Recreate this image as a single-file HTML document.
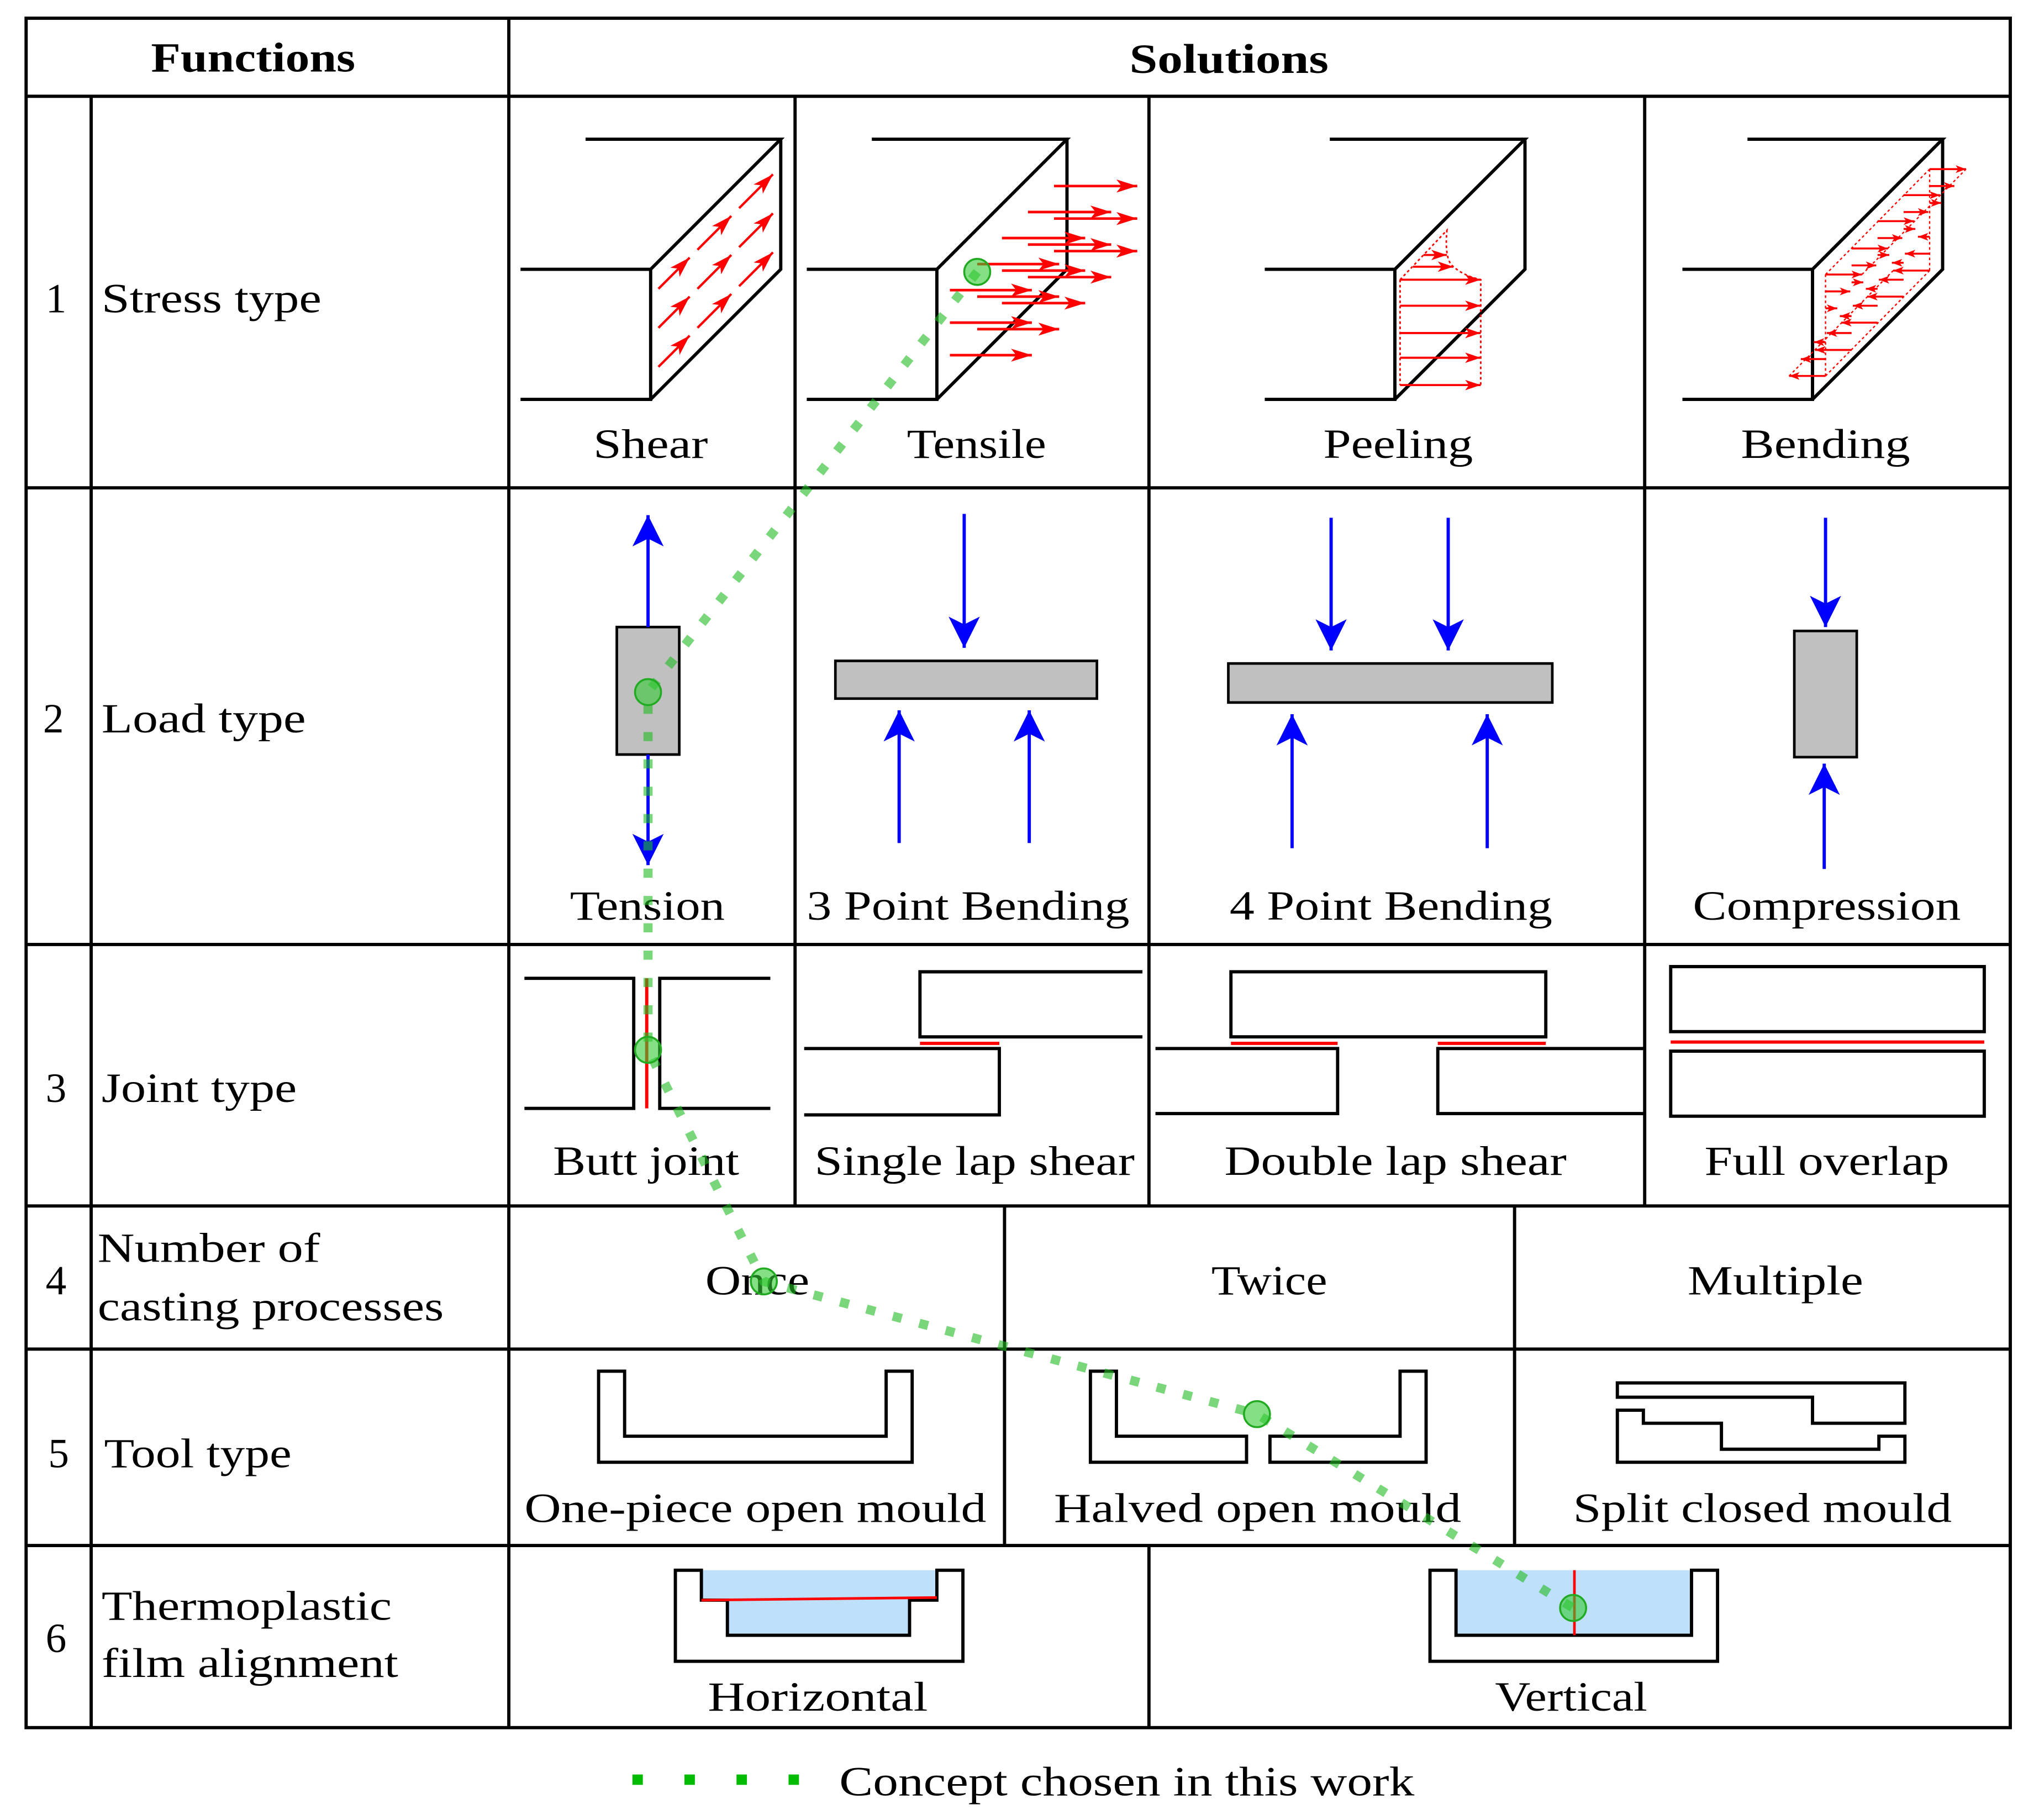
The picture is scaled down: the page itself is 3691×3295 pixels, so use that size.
<!DOCTYPE html>
<html><head><meta charset="utf-8"><style>html,body{margin:0;padding:0;background:#fff}svg{display:block}</style></head><body>
<svg width="3691" height="3295" viewBox="0 0 1567 1399" xmlns="http://www.w3.org/2000/svg" font-family="'Liberation Serif', serif" font-size="32">
<defs>
<marker id="ra" markerWidth="17" markerHeight="10" refX="16" refY="5" orient="auto" markerUnits="userSpaceOnUse"><path d="M0,0 L16,5 L0,10 L4,5 Z" fill="red"/></marker>
<marker id="rp" markerWidth="13" markerHeight="8" refX="12" refY="4" orient="auto" markerUnits="userSpaceOnUse"><path d="M0,0 L12,4 L0,8 L3,4 Z" fill="red"/></marker>
<marker id="rs" markerWidth="9" markerHeight="6" refX="8" refY="3" orient="auto" markerUnits="userSpaceOnUse"><path d="M0,0 L8,3 L0,6 L2,3 Z" fill="red"/></marker>
<marker id="ba" markerWidth="26" markerHeight="24" refX="24" refY="12" orient="auto" markerUnits="userSpaceOnUse"><path d="M0,0 L24,12 L0,24 L6,12 Z" fill="blue"/></marker>
</defs>
<g stroke="#000" stroke-width="2.5" fill="none">
<rect x="20" y="14" width="1525" height="1314"/>
<line x1="20" y1="74" x2="1545" y2="74"/>
<line x1="391" y1="14" x2="391" y2="1328"/>
<line x1="70" y1="74" x2="70" y2="1328"/>
<line x1="20" y1="375" x2="1545" y2="375"/>
<line x1="20" y1="726" x2="1545" y2="726"/>
<line x1="20" y1="927" x2="1545" y2="927"/>
<line x1="20" y1="1037" x2="1545" y2="1037"/>
<line x1="20" y1="1188" x2="1545" y2="1188"/>
<line x1="611" y1="74" x2="611" y2="927"/>
<line x1="883" y1="74" x2="883" y2="927"/>
<line x1="1264" y1="74" x2="1264" y2="927"/>
<line x1="772" y1="927" x2="772" y2="1188"/>
<line x1="1164" y1="927" x2="1164" y2="1188"/>
<line x1="883" y1="1188" x2="883" y2="1328"/>
</g>
<g font-weight="bold" lengthAdjust="spacingAndGlyphs"><text x="116" y="55" textLength="157" lengthAdjust="spacingAndGlyphs">Functions</text><text x="868" y="56" textLength="153" lengthAdjust="spacingAndGlyphs">Solutions</text></g>
<g>
<text x="35" y="240">1</text><text x="78" y="240" textLength="169" lengthAdjust="spacingAndGlyphs">Stress type</text>
<text x="33" y="563">2</text><text x="78" y="563" textLength="157" lengthAdjust="spacingAndGlyphs">Load type</text>
<text x="35" y="847">3</text><text x="78" y="847" textLength="150" lengthAdjust="spacingAndGlyphs">Joint type</text>
<text x="35" y="995">4</text><text x="75" y="970" textLength="171" lengthAdjust="spacingAndGlyphs">Number of</text><text x="75" y="1015" textLength="266" lengthAdjust="spacingAndGlyphs">casting processes</text>
<text x="37" y="1128">5</text><text x="80" y="1128" textLength="144" lengthAdjust="spacingAndGlyphs">Tool type</text>
<text x="35" y="1270">6</text><text x="78" y="1245" textLength="223" lengthAdjust="spacingAndGlyphs">Thermoplastic</text><text x="78" y="1289" textLength="228" lengthAdjust="spacingAndGlyphs">film alignment</text>
</g>
<g>
<text x="456" y="352" textLength="88" lengthAdjust="spacingAndGlyphs">Shear</text>
<text x="697" y="352" textLength="107" lengthAdjust="spacingAndGlyphs">Tensile</text>
<text x="1017" y="352" textLength="115" lengthAdjust="spacingAndGlyphs">Peeling</text>
<text x="1338" y="352" textLength="130" lengthAdjust="spacingAndGlyphs">Bending</text>
<text x="438" y="707" textLength="119" lengthAdjust="spacingAndGlyphs">Tension</text>
<text x="620" y="707" textLength="248" lengthAdjust="spacingAndGlyphs">3 Point Bending</text>
<text x="945" y="707" textLength="248" lengthAdjust="spacingAndGlyphs">4 Point Bending</text>
<text x="1301" y="707" textLength="206" lengthAdjust="spacingAndGlyphs">Compression</text>
<text x="425" y="903" textLength="143" lengthAdjust="spacingAndGlyphs">Butt joint</text>
<text x="626" y="903" textLength="246" lengthAdjust="spacingAndGlyphs">Single lap shear</text>
<text x="941" y="903" textLength="263" lengthAdjust="spacingAndGlyphs">Double lap shear</text>
<text x="1310" y="903" textLength="188" lengthAdjust="spacingAndGlyphs">Full overlap</text>
<text x="542" y="995" textLength="80" lengthAdjust="spacingAndGlyphs">Once</text>
<text x="931" y="995" textLength="89" lengthAdjust="spacingAndGlyphs">Twice</text>
<text x="1297" y="995" textLength="135" lengthAdjust="spacingAndGlyphs">Multiple</text>
<text x="403" y="1170" textLength="355" lengthAdjust="spacingAndGlyphs">One-piece open mould</text>
<text x="810" y="1170" textLength="313" lengthAdjust="spacingAndGlyphs">Halved open mould</text>
<text x="1209" y="1170" textLength="291" lengthAdjust="spacingAndGlyphs">Split closed mould</text>
<text x="544" y="1315" textLength="169" lengthAdjust="spacingAndGlyphs">Horizontal</text>
<text x="1149" y="1315" textLength="117" lengthAdjust="spacingAndGlyphs">Vertical</text>
</g>
<!-- stress blocks -->
<g stroke="#000" stroke-width="2.5" fill="none">
<path d="M450 107 H600 L500 207 H400 M500 207 V307 H400 M500 307 L600 207 V107"/>
<path d="M670 107 H820 L720 207 H620 M720 207 V307 H620 M720 307 L820 207 V107"/>
<path d="M1022 107 H1172 L1072 207 H972 M1072 207 V307 H972 M1072 307 L1172 207 V107"/>
<path d="M1343 107 H1493 L1393 207 H1293 M1393 207 V307 H1293 M1393 307 L1493 207 V107"/>
</g>
<g stroke="red" stroke-width="1.8" marker-end="url(#ra)">
<line x1="506" y1="222" x2="530" y2="198"/><line x1="536" y1="192" x2="562" y2="166"/><line x1="568" y1="160" x2="594" y2="134"/>
<line x1="506" y1="252" x2="530" y2="228"/><line x1="536" y1="222" x2="562" y2="196"/><line x1="568" y1="190" x2="594" y2="164"/>
<line x1="506" y1="282" x2="530" y2="258"/><line x1="536" y1="252" x2="562" y2="226"/><line x1="568" y1="220" x2="594" y2="194"/>
</g>
<g stroke="red" stroke-width="2" marker-end="url(#ra)">
<line x1="810" y1="143" x2="874" y2="143"/>
<line x1="790" y1="163" x2="854" y2="163"/><line x1="810" y1="168" x2="874" y2="168"/>
<line x1="770" y1="183" x2="834" y2="183"/><line x1="790" y1="188" x2="854" y2="188"/><line x1="810" y1="193" x2="874" y2="193"/>
<line x1="751" y1="203" x2="814" y2="203"/><line x1="770" y1="208" x2="834" y2="208"/><line x1="790" y1="213" x2="854" y2="213"/>
<line x1="730" y1="223" x2="793" y2="223"/><line x1="751" y1="228" x2="814" y2="228"/><line x1="770" y1="233" x2="834" y2="233"/>
<line x1="730" y1="248" x2="793" y2="248"/><line x1="751" y1="253" x2="814" y2="253"/>
<line x1="730" y1="273" x2="793" y2="273"/>
</g>
<g stroke="red" stroke-width="1.6" marker-end="url(#rp)">
<line x1="1076" y1="215" x2="1138" y2="215"/><line x1="1076" y1="235" x2="1138" y2="235"/><line x1="1076" y1="256" x2="1138" y2="256"/><line x1="1076" y1="275" x2="1138" y2="275"/><line x1="1076" y1="296" x2="1138" y2="296"/>
<line x1="1086" y1="205" x2="1117" y2="205"/><line x1="1094" y1="196" x2="1112" y2="196"/>
</g>
<path d="M1076 215 L1112 177 Q1110 200 1117 205 Q1125 212 1138 215 V296 M1076 215 V296" stroke="red" stroke-width="1.2" stroke-dasharray="2 2" fill="none"/>
<g stroke="red" stroke-width="1" stroke-dasharray="2 2" fill="none">
<path d="M1403 211 V289 M1483 130 V208 M1403 211 L1483 130 M1403 289 L1483 208 M1431 211 L1511 130 M1375 289 L1455 208"/>
</g>
<g stroke="red" stroke-width="1.5" marker-end="url(#rs)">
<line x1="1403" y1="211" x2="1431" y2="211"/><line x1="1403" y1="224" x2="1422" y2="224"/><line x1="1403" y1="237" x2="1412" y2="237"/><line x1="1403" y1="263" x2="1394" y2="263"/><line x1="1403" y1="276" x2="1384" y2="276"/><line x1="1403" y1="289" x2="1375" y2="289"/>
<line x1="1423" y1="191" x2="1451" y2="191"/><line x1="1423" y1="204" x2="1442" y2="204"/><line x1="1423" y1="217" x2="1432" y2="217"/><line x1="1423" y1="243" x2="1414" y2="243"/><line x1="1423" y1="256" x2="1404" y2="256"/><line x1="1423" y1="269" x2="1395" y2="269"/>
<line x1="1443" y1="170" x2="1471" y2="170"/><line x1="1443" y1="183" x2="1462" y2="183"/><line x1="1443" y1="196" x2="1452" y2="196"/><line x1="1443" y1="222" x2="1434" y2="222"/><line x1="1443" y1="235" x2="1424" y2="235"/><line x1="1443" y1="248" x2="1415" y2="248"/>
<line x1="1463" y1="150" x2="1491" y2="150"/><line x1="1463" y1="163" x2="1482" y2="163"/><line x1="1463" y1="176" x2="1472" y2="176"/><line x1="1463" y1="202" x2="1454" y2="202"/><line x1="1463" y1="215" x2="1444" y2="215"/><line x1="1463" y1="228" x2="1435" y2="228"/>
<line x1="1483" y1="130" x2="1511" y2="130"/><line x1="1483" y1="143" x2="1502" y2="143"/><line x1="1483" y1="156" x2="1492" y2="156"/><line x1="1483" y1="182" x2="1474" y2="182"/><line x1="1483" y1="195" x2="1464" y2="195"/><line x1="1483" y1="208" x2="1455" y2="208"/>
</g>
<!-- load -->
<g fill="#c0c0c0" stroke="#000" stroke-width="2">
<rect x="474" y="482" width="48" height="98"/><rect x="642" y="508" width="201" height="29"/><rect x="944" y="510" width="249" height="30"/><rect x="1379" y="485" width="48" height="97"/>
</g>
<g stroke="blue" stroke-width="2.5" marker-end="url(#ba)">
<line x1="498" y1="482" x2="498" y2="396"/><line x1="498" y1="580" x2="498" y2="665"/>
<line x1="741" y1="395" x2="741" y2="498"/><line x1="691" y1="648" x2="691" y2="546"/><line x1="791" y1="648" x2="791" y2="546"/>
<line x1="1023" y1="398" x2="1023" y2="500"/><line x1="1113" y1="398" x2="1113" y2="500"/><line x1="993" y1="652" x2="993" y2="549"/><line x1="1143" y1="652" x2="1143" y2="549"/>
<line x1="1403" y1="398" x2="1403" y2="482"/><line x1="1402" y1="668" x2="1402" y2="587"/>
</g>
<!-- joints -->
<g stroke="#000" stroke-width="2.5" fill="none">
<path d="M403 752 H487 V852 H403 M592 752 H507 V852 H592"/>
<path d="M878 747 H707 V797 H878 M618 806 H768 V857 H618"/>
<rect x="946" y="747" width="242" height="50"/>
<path d="M888 806 H1028 V856 H888 M1264 806 H1105 V856 H1264"/>
<rect x="1284" y="743" width="241" height="50"/><rect x="1284" y="808" width="241" height="50"/>
</g>
<g stroke="red" stroke-width="2.5"><line x1="497" y1="752" x2="497" y2="852"/><line x1="707" y1="802" x2="768" y2="802"/><line x1="946" y1="802" x2="1028" y2="802"/><line x1="1105" y1="802" x2="1188" y2="802"/><line x1="1284" y1="801" x2="1525" y2="801"/></g>
<!-- tools -->
<g stroke="#000" stroke-width="2.5" fill="none">
<path d="M460 1054 H480 V1104 H681 V1054 H701 V1124 H460 Z"/>
<path d="M838 1054 H858 V1104 H958 V1124 H838 Z"/>
<path d="M976 1104 H1076 V1054 H1096 V1124 H976 Z"/>
<path d="M1243 1063 H1464 V1094 H1393 V1074 H1243 Z"/>
<path d="M1243 1084 H1263 V1094 H1323 V1114 H1444 V1104 H1464 V1124 H1243 Z"/>
</g>
<!-- film -->
<rect x="539" y="1207" width="181" height="23" fill="#bfe0fb"/><rect x="559" y="1230" width="140" height="27" fill="#bfe0fb"/>
<path d="M519 1207 H539 V1230 H559 V1257 H699 V1230 H720 V1207 H740 V1277 H519 Z" stroke="#000" stroke-width="2.5" fill="none"/>
<line x1="539" y1="1230" x2="720" y2="1228" stroke="red" stroke-width="2"/>
<rect x="1119" y="1207" width="181" height="50" fill="#bfe0fb"/>
<path d="M1099 1207 H1119 V1257 H1300 V1207 H1320 V1277 H1099 Z" stroke="#000" stroke-width="2.5" fill="none"/>
<line x1="1210" y1="1207" x2="1210" y2="1257" stroke="red" stroke-width="2"/>
<!-- concept -->
<polyline points="751,209 498,532 498,807 587,985 966,1087 1209,1236" fill="none" stroke="#22bb22" stroke-opacity="0.6" stroke-width="7" stroke-dasharray="7 14"/>
<g fill="#33cc33" fill-opacity="0.6" stroke="#22aa22" stroke-width="1.5">
<circle cx="751" cy="209" r="10"/><circle cx="498" cy="532" r="10"/><circle cx="498" cy="807" r="10"/><circle cx="587" cy="985" r="10"/><circle cx="966" cy="1087" r="10"/><circle cx="1209" cy="1236" r="10"/>
</g>
<line x1="486" y1="1368" x2="615" y2="1368" stroke="#00bb00" stroke-width="8" stroke-dasharray="8 32"/>
<text x="645" y="1380" textLength="442" lengthAdjust="spacingAndGlyphs">Concept chosen in this work</text>
</svg>
</body></html>
